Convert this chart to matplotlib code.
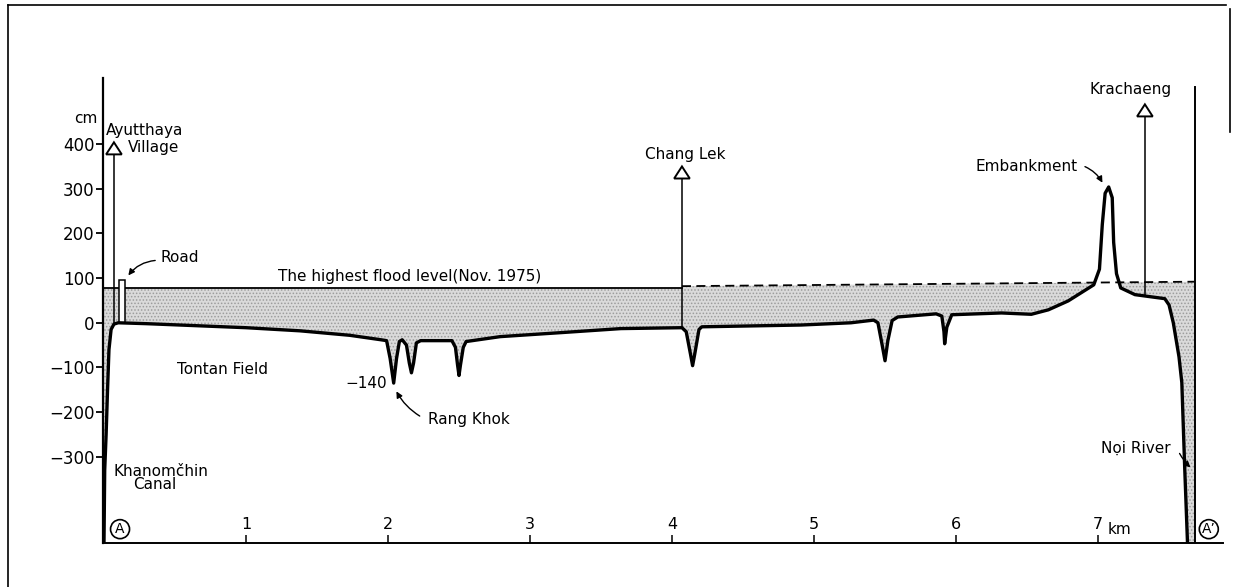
import numpy as np
import matplotlib.pyplot as plt
from matplotlib.patches import Polygon, Rectangle
from matplotlib.lines import Line2D

plt.rcParams['font.family'] = ['DejaVu Sans']
plt.rcParams['hatch.linewidth'] = 0.7

# ground profile along section A - A' (distance km, elevation cm)
dist_km = [0.0, 0.005, 0.015, 0.025, 0.035, 0.05, 0.07, 0.1, 0.3, 1.0, 1.38, 1.52, 1.73, 1.95,
           1.99, 2.015, 2.04, 2.06, 2.08, 2.10, 2.13, 2.15, 2.165, 2.18, 2.20, 2.23, 2.45,
           2.475, 2.49, 2.50, 2.51, 2.53, 2.55, 2.79, 3.22, 3.64, 4.07,
           4.10, 4.13, 4.145, 4.16, 4.19, 4.21, 4.91, 5.26, 5.42,
           5.45, 5.48, 5.50, 5.52, 5.55, 5.59, 5.86, 5.90, 5.915, 5.92, 5.935, 5.97,
           6.32, 6.53, 6.65, 6.79, 6.88, 6.97, 7.01, 7.03, 7.05, 7.075, 7.10, 7.11, 7.13,
           7.16, 7.26, 7.33, 7.47, 7.50, 7.53, 7.57, 7.59, 7.61, 7.63]
elev_cm = [-493, -330, -250, -150, -60, -15, -3, 0, -2, -11, -18, -22, -28, -38,
           -40, -80, -135, -80, -42, -38, -50, -90, -112, -90, -45, -40, -40,
           -55, -95, -118, -95, -55, -42, -31, -22, -13, -11,
           -20, -70, -96, -70, -15, -9, -5, 0, 6,
           0, -50, -85, -40, 5, 13, 20, 15, -20, -47, -10, 18,
           22, 19, 29, 49, 67, 85, 120, 220, 290, 304, 280, 180, 110,
           78, 63, 60, 54, 40, 0, -76, -134, -322, -493]

# highest flood level, Nov. 1975
flood_solid_km = [0.0, 4.07]
flood_solid_cm = [78, 78]
flood_dash_km = [4.07, 7.68]
flood_dash_cm = [82, 92]

river_bank_km = 7.68
road_km = [0.105, 0.148]
road_top_cm = 96

# village markers: position km, base cm, arrow tip cm
village_names = ['Chang Lek', 'Krachaeng']
village_km = [0.07, 4.07, 7.33]
village_base = [0, -11, 60]
village_tip = [404, 350, 489]

ytick_vals = [-300, -200, -100, 0, 100, 200, 300, 400]
xtick_vals = [1, 2, 3, 4, 5, 6, 7]
xtick_labels = ['1', '2', '3', '4', '5', '6', '7']

fig = plt.figure(figsize=(12.36, 5.87), dpi=100)
ax = fig.add_axes([103 / 1236, 44 / 587, 1120 / 1236, 465 / 587])
ax.set_xlim(-0.007, 7.88)
ax.set_ylim(-493, 548)

x = np.array(dist_km + [river_bank_km])
ground = np.array(elev_cm + [-493])
flood = np.where(x <= flood_solid_km[1], flood_solid_cm[0],
                 np.interp(x, flood_dash_km, flood_dash_cm))
ax.fill_between(x, ground, flood, where=flood >= ground, interpolate=True,
                facecolor='#dadada', edgecolor='#9c9c9c', hatch='.....', linewidth=0, zorder=1)

ax.plot(dist_km, elev_cm, color='black', lw=2.4, solid_capstyle='round', zorder=4)
ax.plot(flood_solid_km, flood_solid_cm, color='black', lw=1.3, zorder=3)
ax.plot(flood_dash_km, flood_dash_cm, color='black', lw=1.3, ls=(0, (5, 3)), zorder=3)
ax.plot([river_bank_km, river_bank_km], [-493, 528], color='black', lw=1.4, zorder=3)

ax.add_patch(Rectangle((road_km[0], 0), road_km[1] - road_km[0], road_top_cm,
                       facecolor='white', edgecolor='black', lw=1.1, zorder=3))

# open triangle arrows for villages
for vx, vb, vt in zip(village_km, village_base, village_tip):
    ax.plot([vx, vx], [vb, vt - 25], color='black', lw=1.1, zorder=3)
    ax.add_patch(Polygon([(vx - 0.055, vt - 27), (vx + 0.055, vt - 27), (vx, vt)],
                         closed=True, facecolor='white', edgecolor='black', lw=1.4, zorder=5))

fs = 11
ax.text(0.015, 430, 'Ayutthaya', fontsize=fs, ha='left', va='center')
ax.text(0.17, 392, 'Village', fontsize=fs, ha='left', va='center')
ax.text(village_km[1] + 0.02, 377, village_names[0], fontsize=fs, ha='center', va='center')
ax.text(7.23, 522, village_names[1], fontsize=fs, ha='center', va='center')
ax.text(1.227, 103, 'The highest flood level(Nov. 1975)', fontsize=fs, ha='left', va='center')
ax.text(0.515, -105, 'Tontan Field', fontsize=fs, ha='left', va='center')
ax.text(1.996, -135, '\u2212140', fontsize=fs, ha='right', va='center')
ax.text(2.28, -217, 'Rang Khok', fontsize=fs, ha='left', va='center')
ax.text(0.065, -334, 'Khanom\u010dhin', fontsize=fs, ha='left', va='center')
ax.text(0.205, -363, 'Canal', fontsize=fs, ha='left', va='center')
ax.text(0.395, 146, 'Road', fontsize=fs, ha='left', va='center')
ax.text(6.14, 350, 'Embankment', fontsize=fs, ha='left', va='center')
ax.text(7.02, -280, 'N\u1ecdi River', fontsize=fs, ha='left', va='center')
ax.text(7.07, -462, 'km', fontsize=fs, ha='left', va='center')
ax.text(-0.045, 457, 'cm', fontsize=fs, ha='right', va='center', clip_on=False)

circ = dict(boxstyle='circle,pad=0.18', facecolor='white', edgecolor='black', lw=1.2)
ax.text(0.113, -462, 'A', fontsize=10, ha='center', va='center', bbox=circ, zorder=6)
ax.text(7.78, -462, 'A\u2019', fontsize=10, ha='center', va='center', bbox=circ, zorder=6)

arw = dict(arrowstyle='-|>', color='black', lw=1.0, mutation_scale=9)
ax.annotate('', xy=(0.16, 101), xytext=(0.38, 140),
            arrowprops=dict(arw, connectionstyle='arc3,rad=0.25'))
ax.annotate('', xy=(2.05, -148), xytext=(2.24, -212),
            arrowprops=dict(arw, connectionstyle='arc3,rad=-0.15'))
ax.annotate('', xy=(7.04, 308), xytext=(6.89, 352),
            arrowprops=dict(arw, connectionstyle='arc3,rad=-0.2'))
ax.annotate('', xy=(7.665, -328), xytext=(7.565, -287),
            arrowprops=dict(arw, connectionstyle='arc3,rad=0.1'))

for side in ['top', 'right']:
    ax.spines[side].set_visible(False)
ax.spines['left'].set_linewidth(1.6)
ax.spines['bottom'].set_linewidth(1.4)

ax.set_yticks(ytick_vals)
ax.tick_params(axis='y', direction='out', length=5, width=1.3, labelsize=12, pad=1)
ax.set_xticks(xtick_vals)
ax.set_xticklabels(xtick_labels)
ax.tick_params(axis='x', direction='in', length=6, width=1.1, labelsize=11.5, pad=-19)

# page frame of the scanned figure
fig.add_artist(Line2D([8 / 1236, 8 / 1236], [0, 582 / 587], color='black', lw=1.2))
fig.add_artist(Line2D([8 / 1236, 1226 / 1236], [582 / 587, 582 / 587], color='black', lw=1.2))
fig.add_artist(Line2D([1230 / 1236, 1230 / 1236], [578 / 587, 455 / 587], color='black', lw=1.2))

fig.savefig('out.png', dpi=100)
